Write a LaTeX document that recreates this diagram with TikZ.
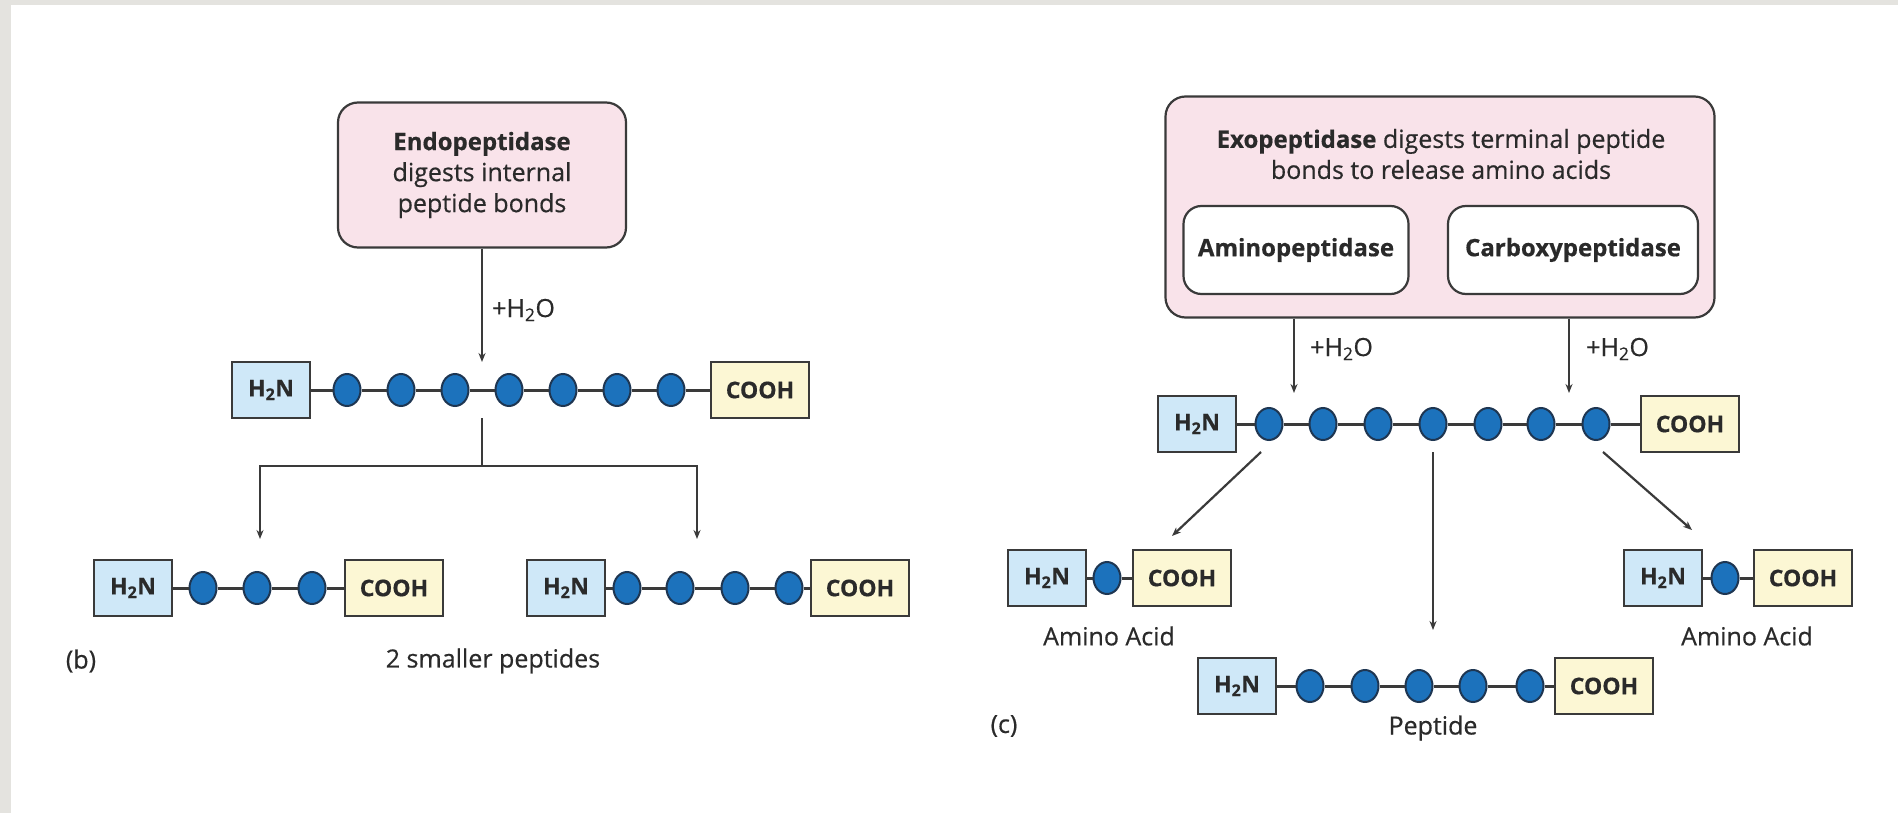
\documentclass[tikz,border=0pt]{standalone}
\usepackage{fontspec}
\setmainfont{Open Sans}[FakeBold=0.5]
\usetikzlibrary{arrows.meta,shapes.geometric}

\begin{document}
\begin{tikzpicture}[x=1pt,y=-1pt,
  font=\fontsize{25}{31}\selectfont,
  enzima/.style={draw=lineGray, fill=colPink, line width=2.2pt, rounded corners=20pt, align=center, text=textGray},
  sottoenz/.style={draw=lineGray, fill=white, line width=2.2pt, rounded corners=18pt, text=textGray, font=\fontsize{24}{30}\selectfont\bfseries},
  nterm/.style={draw=lineGray, fill=colN, line width=2pt, minimum width=78pt, minimum height=56pt, inner sep=0pt, text=textGray, font=\fontsize{23}{30}\selectfont\bfseries},
  cterm/.style={draw=lineGray, fill=colC, line width=2pt, minimum width=98pt, minimum height=56pt, inner sep=0pt, text=textGray, font=\fontsize{23}{30}\selectfont\bfseries},
  aa/.style={ellipse, draw=colNavy, fill=colBlu, line width=2pt, minimum width=27pt, minimum height=32pt, inner sep=0pt},
  legame/.style={draw=lineGray, line width=3pt},
  freccia/.style={draw=lineGray, line width=2.2pt, -{Stealth[length=9pt,width=7pt]}},
  etich/.style={text=textGray, inner sep=0pt}
]

% Colori
\definecolor{colPink}{HTML}{F9E3EA}
\definecolor{colN}{HTML}{CFE8F8}
\definecolor{colC}{HTML}{FCF7D4}
\definecolor{colBlu}{HTML}{1C72BC}
\definecolor{colNavy}{HTML}{1E3652}
\definecolor{lineGray}{HTML}{3A3A3A}
\definecolor{textGray}{HTML}{2A2A2A}
\definecolor{frameGray}{HTML}{E4E3DF}

% Sfondo e cornice
\useasboundingbox (0,0) rectangle (1898,813);
\fill[white] (0,0) rectangle (1898,813);
\fill[frameGray] (0,0) rectangle (11,813);
\fill[frameGray] (0,0) rectangle (1898,5);

% ---- Pannello (b) ----
\node[enzima, minimum width=288pt, minimum height=145pt] (endo) at (482,175)
  {{\fontsize{24}{31}\selectfont\bfseries Endopeptidase}\\digests internal\\peptide bonds};
\coordinate (bcut) at (482,362);
\draw[freccia] (endo) -- (bcut);
\node[etich, anchor=west] (bacqua) at (492,310) {+H\textsubscript{2}O};

% Catena intera
\node[nterm] (b1n) at (271,390) {H\textsubscript{2}N};
\node[aa] (b1a1) at (347,390) {};
\node[aa] (b1a2) at (401,390) {};
\node[aa] (b1a3) at (455,390) {};
\node[aa] (b1a4) at (509,390) {};
\node[aa] (b1a5) at (563,390) {};
\node[aa] (b1a6) at (617,390) {};
\node[aa] (b1a7) at (671,390) {};
\node[cterm] (b1c) at (760,390) {COOH};
\draw[legame] (b1n) -- (b1a1) -- (b1a2) -- (b1a3) -- (b1a4) -- (b1a5) -- (b1a6) -- (b1a7) -- (b1c);

% Divisione
\coordinate (bsplit) at (482,418);
\coordinate (bjoin) at (482,466);
\coordinate (bleft) at (260,539);
\coordinate (bright) at (697,539);
\draw[legame, line width=2.2pt] (bsplit) -- (bjoin);
\draw[freccia] (bjoin) -| (bleft);
\draw[freccia] (bjoin) -| (bright);

% Peptide sinistro
\node[nterm] (b2n) at (133,588) {H\textsubscript{2}N};
\node[aa] (b2a1) at (203,588) {};
\node[aa] (b2a2) at (257,588) {};
\node[aa] (b2a3) at (312,588) {};
\node[cterm] (b2c) at (394,588) {COOH};
\draw[legame] (b2n) -- (b2a1) -- (b2a2) -- (b2a3) -- (b2c);

% Peptide destro
\node[nterm] (b3n) at (566,588) {H\textsubscript{2}N};
\node[aa] (b3a1) at (627,588) {};
\node[aa] (b3a2) at (680,588) {};
\node[aa] (b3a3) at (735,588) {};
\node[aa] (b3a4) at (789,588) {};
\node[cterm] (b3c) at (860,588) {COOH};
\draw[legame] (b3n) -- (b3a1) -- (b3a2) -- (b3a3) -- (b3a4) -- (b3c);

\node[etich] (blab) at (81,661) {(b)};
\node[etich] (bpep) at (493,661) {2 smaller peptides};

% ---- Pannello (c) ----
\node[enzima, minimum width=549pt, minimum height=221pt] (exo) at (1440,207) {};
\node[etich, align=center] (exotxt) at (1441,154)
  {{\fontsize{24}{31}\selectfont\bfseries Exopeptidase} digests terminal peptide\\bonds to release amino acids};
\node[sottoenz, minimum width=225pt, minimum height=88pt] (amino) at (1296,250) {Aminopeptidase};
\node[sottoenz, minimum width=250pt, minimum height=88pt] (carboxy) at (1573,250) {Carboxypeptidase};

\coordinate (cfl) at (1294,393);
\coordinate (cfr) at (1569,393);
\draw[freccia] (exo.south -| cfl) -- (cfl);
\draw[freccia] (exo.south -| cfr) -- (cfr);
\node[etich, anchor=west] (cacqua1) at (1310,349) {+H\textsubscript{2}O};
\node[etich, anchor=west] (cacqua2) at (1586,349) {+H\textsubscript{2}O};

% Catena intera
\node[nterm] (c1n) at (1197,424) {H\textsubscript{2}N};
\node[aa] (c1a1) at (1269,424) {};
\node[aa] (c1a2) at (1323,424) {};
\node[aa] (c1a3) at (1378,424) {};
\node[aa] (c1a4) at (1433,424) {};
\node[aa] (c1a5) at (1488,424) {};
\node[aa] (c1a6) at (1541,424) {};
\node[aa] (c1a7) at (1596,424) {};
\node[cterm] (c1c) at (1690,424) {COOH};
\draw[legame] (c1n) -- (c1a1) -- (c1a2) -- (c1a3) -- (c1a4) -- (c1a5) -- (c1a6) -- (c1a7) -- (c1c);

% Frecce verso i prodotti
\coordinate (cs1) at (1261,452);
\coordinate (ce1) at (1172,536);
\coordinate (cs2) at (1433,452);
\coordinate (ce2) at (1433,630);
\coordinate (cs3) at (1603,452);
\coordinate (ce3) at (1692,530);
\draw[freccia] (cs1) -- (ce1);
\draw[freccia] (cs2) -- (ce2);
\draw[freccia] (cs3) -- (ce3);

% Amminoacido sinistro
\node[nterm] (c2n) at (1047,578) {H\textsubscript{2}N};
\node[aa] (c2a1) at (1107,578) {};
\node[cterm] (c2c) at (1182,578) {COOH};
\draw[legame] (c2n) -- (c2a1) -- (c2c);
\node[etich] (c2lab) at (1109,636) {Amino Acid};

% Amminoacido destro
\node[nterm] (c3n) at (1663,578) {H\textsubscript{2}N};
\node[aa] (c3a1) at (1725,578) {};
\node[cterm] (c3c) at (1803,578) {COOH};
\draw[legame] (c3n) -- (c3a1) -- (c3c);
\node[etich] (c3lab) at (1747,636) {Amino Acid};

% Peptide residuo
\node[nterm] (c4n) at (1237,686) {H\textsubscript{2}N};
\node[aa] (c4a1) at (1310,686) {};
\node[aa] (c4a2) at (1365,686) {};
\node[aa] (c4a3) at (1419,686) {};
\node[aa] (c4a4) at (1473,686) {};
\node[aa] (c4a5) at (1530,686) {};
\node[cterm] (c4c) at (1604,686) {COOH};
\draw[legame] (c4n) -- (c4a1) -- (c4a2) -- (c4a3) -- (c4a4) -- (c4a5) -- (c4c);
\node[etich] (c4lab) at (1433,728) {Peptide};

\node[etich] (clab) at (1004,726) {(c)};

\end{tikzpicture}
\end{document}
